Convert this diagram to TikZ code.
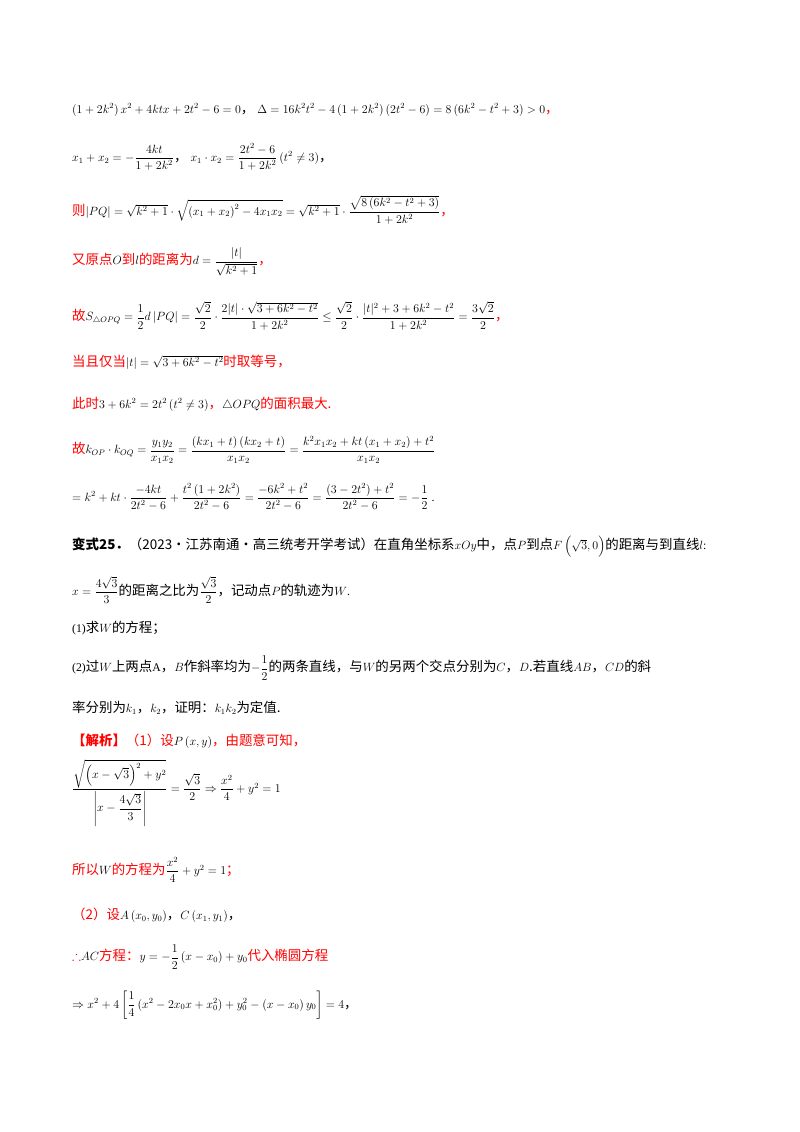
\documentclass[tikz,border=0pt]{standalone}
\usepackage{amsmath,amssymb}
\usepackage{fontspec}
\setmainfont{Liberation Serif}
\newfontfamily\cjk{Noto Sans CJK SC}
\newcommand\zh[1]{{\fontsize{13.5}{15}\selectfont\cjk #1}}
\newcommand\rz[1]{\textcolor{red}{\fontsize{13.5}{15}\selectfont\cjk #1}}
\begin{document}
\begin{tikzpicture}[x=1bp,y=-1bp,every node/.style={anchor=west,inner sep=0pt,font=\fontsize{11.8}{14}\selectfont}]
\useasboundingbox[fill=white] (0,0) rectangle (800,1132);
\node (l1) at (72,110) {$\left(1+2k^2\right)x^2+4ktx+2t^2-6=0$\zh{，}\ $\Delta=16k^2t^2-4\left(1+2k^2\right)\left(2t^2-6\right)=8\left(6k^2-t^2+3\right)>0$\rz{，}};
\node (l2) at (72,157) {$x_1+x_2=-\dfrac{4kt}{1+2k^2}$\zh{，}\ $x_1\cdot x_2=\dfrac{2t^2-6}{1+2k^2}\left(t^2\neq3\right)$\zh{，}};
\node (l3) at (72,210) {\rz{则}$\left|PQ\right|=\sqrt{k^2+1}\cdot\sqrt{\left(x_1+x_2\right)^2-4x_1x_2}=\sqrt{k^2+1}\cdot\dfrac{\sqrt{8\left(6k^2-t^2+3\right)}}{1+2k^2}$\rz{，}};
\node (l4) at (72,262) {\rz{又原点}$O$\rz{到}$l$\rz{的距离为}$d=\dfrac{|t|}{\sqrt{k^2+1}}$\rz{，}};
\node (l5) at (72,316) {\rz{故}$S_{\triangle OPQ}=\dfrac12 d\left|PQ\right|=\dfrac{\sqrt2}{2}\cdot\dfrac{2|t|\cdot\sqrt{3+6k^2-t^2}}{1+2k^2}\le\dfrac{\sqrt2}{2}\cdot\dfrac{|t|^2+3+6k^2-t^2}{1+2k^2}=\dfrac{3\sqrt2}{2}$\rz{，}};
\node (l6) at (72,362) {\rz{当且仅当}$|t|=\sqrt{3+6k^2-t^2}$\rz{时取等号，}};
\node (l7) at (72,404) {\rz{此时}$3+6k^2=2t^2\left(t^2\neq3\right)$\rz{，}$\triangle OPQ$\rz{的面积最大.}};
\node (l8) at (72,450) {\rz{故}$k_{OP}\cdot k_{OQ}=\dfrac{y_1y_2}{x_1x_2}=\dfrac{\left(kx_1+t\right)\left(kx_2+t\right)}{x_1x_2}=\dfrac{k^2x_1x_2+kt\left(x_1+x_2\right)+t^2}{x_1x_2}$};
\node (l9) at (72,497) {$=k^2+kt\cdot\dfrac{-4kt}{2t^2-6}+\dfrac{t^2\left(1+2k^2\right)}{2t^2-6}=\dfrac{-6k^2+t^2}{2t^2-6}=\dfrac{\left(3-2t^2\right)+t^2}{2t^2-6}=-\dfrac12$\ .};
\node (l10) at (72,547) {\zh{\textbf{变式25．}（2023·江苏南通·高三统考开学考试）在直角坐标系}$xOy$\zh{中，点}$P$\zh{到点}$F\left(\sqrt3,0\right)$\zh{的距离与到直线}$l$:};
\node (l11) at (72,590) {$x=\dfrac{4\sqrt3}{3}$\zh{的距离之比为}$\dfrac{\sqrt3}{2}$\zh{，记动点}$P$\zh{的轨迹为}$W$.};
\node (l12) at (72,628) {(1)\zh{求}$W$\zh{的方程；}};
\node (l13) at (72,668) {(2)\zh{过}$W$\zh{上两点}$\mathrm{A}$\zh{，}$B$\zh{作斜率均为}$-\dfrac12$\zh{的两条直线，与}$W$\zh{的另两个交点分别为}$C$\zh{，}$D$\zh{.若直线}$AB$\zh{，}$CD$\zh{的斜}};
\node (l14) at (72,708) {\zh{率分别为}$k_1$\zh{，}$k_2$\zh{，证明：}$k_1k_2$\zh{为定值.}};
\node (l15) at (72,741) {\textcolor{red}{\fontsize{13.5}{15}\selectfont\cjk\bfseries【解析】}\rz{（1）设}$P\left(x,y\right)$\rz{，由题意可知，}};
\node (l16) at (72,793) {$\dfrac{\sqrt{\left(x-\sqrt3\right)^2+y^2}}{\left|x-\dfrac{4\sqrt3}{3}\right|}=\dfrac{\sqrt3}{2}\Rightarrow\dfrac{x^2}{4}+y^2=1$};
\node (l17) at (72,870) {\rz{所以}$W$\rz{的方程为}$\dfrac{x^2}{4}+y^2=1$\rz{；}};
\node (l18) at (72,915) {\rz{（2）设}$A\left(x_0,y_0\right)$\zh{，}$C\left(x_1,y_1\right)$\zh{，}};
\node (l19) at (72,957) {\rz{$\therefore$}$AC$\rz{方程：}$y=-\dfrac12\left(x-x_0\right)+y_0$\rz{代入椭圆方程}};
\node (l20) at (72,1005) {$\Rightarrow x^2+4\left[\dfrac14\left(x^2-2x_0x+x_0^2\right)+y_0^2-\left(x-x_0\right)y_0\right]=4$\zh{，}};
\end{tikzpicture}
\end{document}
